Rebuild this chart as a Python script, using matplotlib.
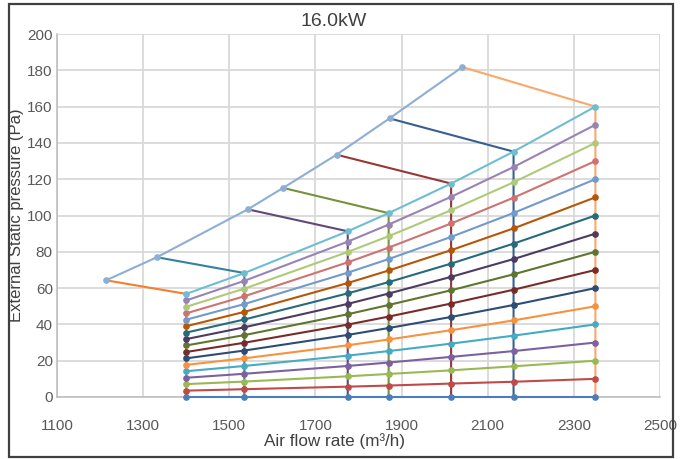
import matplotlib
matplotlib.use("Agg")
import matplotlib.pyplot as plt
from matplotlib.patches import Rectangle

# air flow rates of the fan steps (m3/h)
flows = [1400, 1535, 1775, 1870, 2015, 2160, 2350]

# external static pressure along each system curve (Pa), bottom to top
esp_curves = [
    [0, 0, 0, 0, 0, 0, 0],
    [3.5, 4.3, 5.7, 6.3, 7.4, 8.4, 10],
    [7.1, 8.5, 11.4, 12.7, 14.7, 16.9, 20],
    [10.6, 12.8, 17.1, 19.0, 22.1, 25.3, 30],
    [14.2, 17.1, 22.8, 25.3, 29.4, 33.8, 40],
    [17.7, 21.3, 28.5, 31.7, 36.8, 42.2, 50],
    [21.3, 25.6, 34.2, 38.0, 44.1, 50.7, 60],
    [24.8, 29.9, 39.9, 44.3, 51.5, 59.1, 70],
    [28.4, 34.1, 45.6, 50.7, 58.8, 67.6, 80],
    [31.9, 38.4, 51.3, 57.0, 66.2, 76.0, 90],
    [35.5, 42.7, 57.1, 63.3, 73.5, 84.5, 100],
    [39.0, 46.9, 62.8, 69.7, 80.9, 92.9, 110],
    [42.6, 51.2, 68.5, 76.0, 88.2, 101.4, 120],
    [46.1, 55.5, 74.2, 82.3, 95.6, 109.8, 130],
    [49.7, 59.7, 79.9, 88.6, 102.9, 118.3, 140],
    [53.2, 64.0, 85.6, 95.0, 110.3, 126.7, 150],
    [56.8, 68.3, 91.3, 101.3, 117.6, 135.2, 160],
]

# upper limit line
env_flow = [1214, 1332, 1543, 1625, 1749, 1872, 2041]
env_esp = [64.3, 77.0, 103.4, 115.2, 133.5, 153.5, 181.8]

curve_colors = ["#4A7EBB", "#BE4B48", "#98B954", "#7D60A0", "#46AAC5", "#F69240",
                "#2C4D75", "#772C2A", "#5F7530", "#4D3B62", "#276A7C", "#B65708",
                "#729ACA", "#CD7371", "#AFC97A", "#9983B5", "#6FBDD1"]
fan_colors = ["#F47F2C", "#31849B", "#5F497A", "#76923C", "#953735", "#366092", "#FAA86A"]
env_color = "#8EAED3"

font = ["Liberation Sans", "DejaVu Sans"]

fig = plt.figure(figsize=(6.89, 4.59), dpi=100)
ax = fig.add_axes([57 / 689, 1 - 397 / 459, 603 / 689, 363 / 459])

# system curves (lines first, markers later so they sit on the fan lines)
for esp, c in zip(esp_curves, curve_colors):
    ax.plot(flows, esp, color=c, lw=1.5, zorder=3, clip_on=False)

# fan step lines: limit point -> top curve -> straight down
top = esp_curves[-1]
for i, c in enumerate(fan_colors):
    xs = [env_flow[i], flows[i], flows[i]]
    ys = [env_esp[i], top[i], 0]
    ax.plot(xs, ys, color=c, lw=1.5, zorder=4, clip_on=False)

for esp, c in zip(esp_curves, curve_colors):
    ax.plot(flows, esp, ls="none", marker="o", ms=3.8, color=c, zorder=5, clip_on=False)

ax.plot(env_flow, env_esp, color=env_color, lw=1.5, marker="o", ms=3.8, zorder=5)

ax.set_xlim(1100, 2500)
ax.set_ylim(0, 200)
ax.set_xticks(range(1100, 2501, 200))
ax.set_yticks(range(0, 201, 20))
ax.grid(True, color="#D9D9D9", lw=1.3)
ax.set_axisbelow(True)
for s in ["top", "right"]:
    ax.spines[s].set_visible(False)
for s in ["left", "bottom"]:
    ax.spines[s].set_color("#BFBFBF")
    ax.spines[s].set_linewidth(1.2)
ax.tick_params(length=0)
ax.tick_params(axis="x", pad=16)
ax.tick_params(axis="y", pad=3)
for lab in ax.get_xticklabels() + ax.get_yticklabels():
    lab.set_family(font)
    lab.set_fontsize(11)
    lab.set_color("#595959")

fig.text(334 / 689, 1 - 21 / 459, "16.0kW", ha="center", va="center",
         fontsize=14, color="#404040", family=font)
fig.text(334 / 689, 1 - 441 / 459, "Air flow rate (m³/h)", ha="center", va="center",
         fontsize=12.3, color="#404040", family=font)
fig.text(17 / 689, 1 - 215 / 459, "External Static pressure (Pa)", ha="center", va="center",
         rotation=90, fontsize=12, color="#404040", family=font)

# outer chart border
fig.patches.append(Rectangle((9 / 689, 1 - 457 / 459), 664 / 689, 453 / 459,
                             transform=fig.transFigure, fill=False,
                             edgecolor="#404040", lw=1.6))

fig.savefig("out.png", dpi=100)
